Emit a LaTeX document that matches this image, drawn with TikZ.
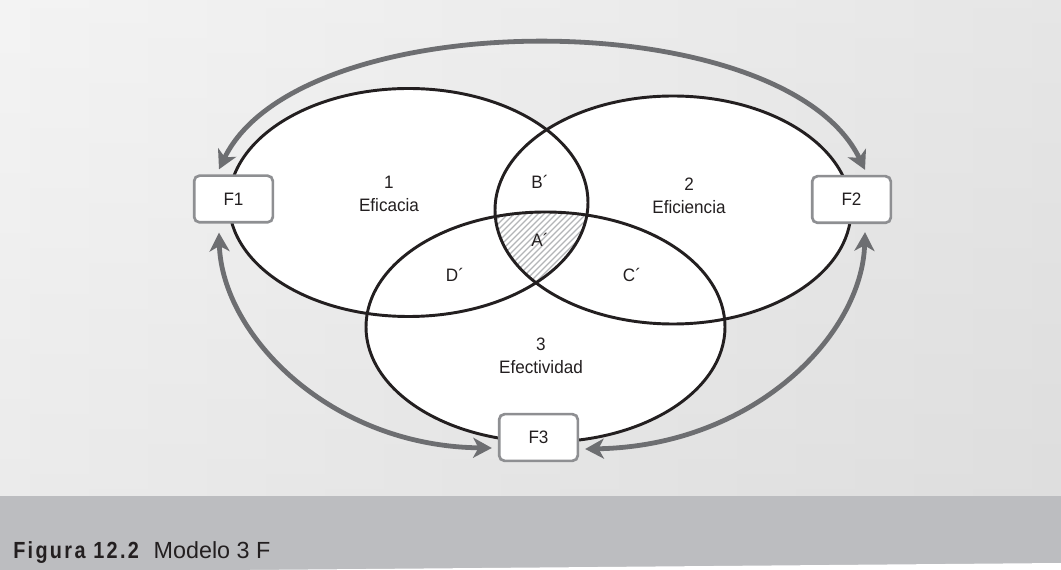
\documentclass[tikz,border=0pt]{standalone}
\usepackage{fontspec}
\setmainfont{Liberation Sans}
\newfontfamily\labfont[FakeStretch=0.95]{Liberation Sans}
\newfontfamily\capfont{Liberation Sans}
\newfontfamily\capbold[FakeStretch=0.85,LetterSpace=10]{Liberation Sans Bold}
\usetikzlibrary{arrows.meta,calc}
\definecolor{arrowgray}{HTML}{6D6E71}
\definecolor{boxgray}{HTML}{8E8F92}
\definecolor{inkblack}{HTML}{231F20}
\definecolor{hatchgray}{HTML}{B3B5B8}
\definecolor{bandgray}{HTML}{BCBDC0}
\definecolor{bglight}{HTML}{F0F0F0}
\definecolor{bgdark}{HTML}{DEDEDE}
\begin{document}
\begin{tikzpicture}[x=0.75pt,y=-0.75pt,
  fbox/.style={draw=boxgray,line width=2pt,fill=white,rounded corners=4pt,
    minimum width=59pt,minimum height=35pt,inner sep=0pt,
    font=\labfont\fontsize{13.5}{16}\selectfont,text=inkblack},
  venn/.style={draw=inkblack,line width=2.2pt},
  lab/.style={font=\labfont\fontsize{13.5}{16}\selectfont,text=inkblack,align=center,inner sep=0pt},
  arr/.style={draw=arrowgray,line width=3.6pt,
    {Stealth[length=14pt,width=15pt,inset=4pt]}-{Stealth[length=14pt,width=15pt,inset=4pt]}},
  hatch/.style={draw=hatchgray,line width=0.9pt}]
\useasboundingbox (0,0) rectangle (1061,570);
% background
\shade[left color=bglight,right color=bgdark] (0,0) rectangle (1061,496);
\shade[top color=white,bottom color=bgdark,opacity=0.25] (0,0) rectangle (1061,496);
\fill[bandgray] (0,496) rectangle (1061,570);
\fill[white] (250,570) -- (1061,563) -- (1061,570) -- cycle;
\node[anchor=west,inner sep=0pt,text=inkblack] (cap) at (13,553)
  {\capbold\fontsize{17.5}{20}\selectfont Figura 12.2\hspace{11pt}\capfont\fontsize{17.5}{20}\selectfont Modelo 3 F};
% ellipses fill
\fill[white] (408.5,202.5) ellipse [x radius=179.5,y radius=114];
\fill[white] (673,210) ellipse [x radius=178,y radius=114];
\fill[white] (545.5,327) ellipse [x radius=179.5,y radius=115];
% hatched central region
\begin{scope}
  \clip (408.5,202.5) ellipse [x radius=179.5,y radius=114];
  \clip (673,210) ellipse [x radius=178,y radius=114];
  \clip (545.5,327) ellipse [x radius=179.5,y radius=115];
  \foreach \i in {380,386,...,620} \draw[hatch] (\i,300) -- (\i+100,200);
\end{scope}
% ellipses outline
\draw[venn] (408.5,202.5) ellipse [x radius=179.5,y radius=114];
\draw[venn] (673,210) ellipse [x radius=178,y radius=114];
\draw[venn] (545.5,327) ellipse [x radius=179.5,y radius=115];
% labels
\node[lab] (l1) at (389,194) {1\\[1pt]Eficacia};
\node[lab] (l2) at (689,196) {2\\[1pt]Eficiencia};
\node[lab] (l3) at (541,356) {3\\[1pt]Efectividad};
\node[lab] (lb) at (540,182) {B´};
\node[lab] (la) at (540,240) {A´};
\node[lab] (ld) at (455,275) {D´};
\node[lab] (lc) at (632,275) {C´};
% boxes
\node[fbox] (F1) at (233.5,199) {F1};
\node[fbox] (F2) at (851.5,199.5) {F2};
\node[fbox] (F3) at (538.5,437.5) {F3};
% arrows
\draw[arr] ($(F1.north)+(-14.5,-5)$) .. controls (300,2) and (784,2) .. ($(F2.north)+(13.5,-5)$);
\draw[arr] ($(F1.south)+(-14.5,9)$) .. controls (222,335) and (330,446) .. ($(F3.west)+(-6,10.5)$);
\draw[arr] ($(F2.south)+(13.5,8)$) .. controls (862,335) and (754,446) .. ($(F3.east)+(6,11.5)$);
\end{tikzpicture}
\end{document}
